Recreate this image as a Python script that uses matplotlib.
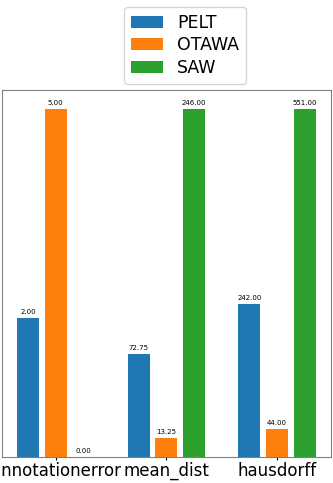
import numpy as np
import matplotlib
matplotlib.use("Agg")
import matplotlib.pyplot as plt

# metrics on the x axis
metrics = ["annotationerror", "mean_dist", "hausdorff"]
methods = ["PELT", "OTAWA", "SAW"]

# raw scores per method, in metric order
pelt = [2.00, 72.75, 242.00]
otawa = [5.00, 13.25, 44.00]
saw = [0.00, 246.00, 551.00]

colors = ["tab:blue", "tab:orange", "tab:green"]

scores = np.array([pelt, otawa, saw])
# each metric is scaled by its largest score so the groups are comparable
scaled = scores / scores.max(axis=0)

fig, ax = plt.subplots(figsize=(3.33, 4.83), dpi=100)
fig.subplots_adjust(left=0.006, right=0.993, top=0.814, bottom=0.054)

x = np.arange(len(metrics))
width = 0.2
for i, name in enumerate(methods):
    pos = x + (i - 1) * 0.25
    bars = ax.bar(pos, scaled[i], width, color=colors[i], label=name)
    for b, raw in zip(bars, scores[i]):
        ax.annotate(f"{raw:.2f}", (b.get_x() + b.get_width() / 2, b.get_height()),
                    xytext=(0, 2), textcoords="offset points",
                    ha="center", va="bottom", fontsize=5)

ax.set_ylim(0, 1.055)
ax.set_xticks(x)
ax.set_xticklabels(metrics, fontsize=12)
ax.tick_params(axis="x", length=2, pad=1.5)
ax.set_yticks([])
for s in ax.spines.values():
    s.set_color("#808080")

fig.legend(loc="upper center", bbox_to_anchor=(0.556, 1.004), fontsize=12.5,
           labelspacing=0.26, handlelength=1.85)

fig.savefig("out.png", dpi=100)
